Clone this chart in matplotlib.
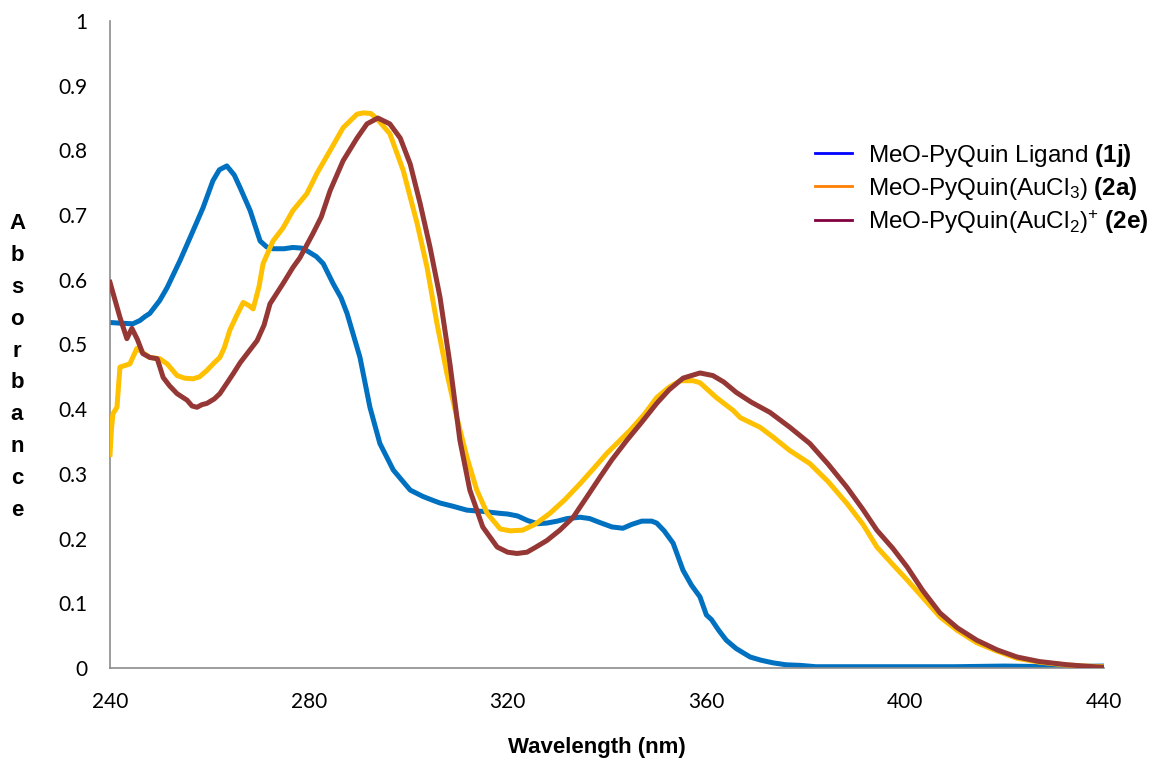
import numpy as np
import matplotlib
matplotlib.use("Agg")
import matplotlib.pyplot as plt
from matplotlib.lines import Line2D

plt.rcParams['mathtext.fontset'] = 'custom'
plt.rcParams['mathtext.rm'] = 'Liberation Sans'
plt.rcParams['mathtext.it'] = 'Liberation Sans:italic'
plt.rcParams['mathtext.bf'] = 'Liberation Sans:bold'

# UV-vis spectra, wavelength (nm) vs absorbance
wl_1j = [240, 242, 244.6, 246, 247, 248, 250, 251.5, 254.1, 256.1, 258.7, 260.7, 262, 263.5,
         265, 266.2, 268.2, 270.2, 271.5, 272.8, 275, 276.8, 278.5, 279.6, 281.5, 282.9,
         284.9, 286.5, 287.7, 290.3, 292.3, 294.3, 297, 300.4, 303, 305, 306.4, 309, 311.8,
         315, 318.5, 320, 322, 324, 326, 327.9, 330, 332, 334.6, 336.5, 338.5, 341, 343.2,
         345, 347, 349, 350, 351.5, 353.3, 355.3, 357, 358.7, 360, 361, 362.5, 364, 366,
         368.8, 371, 373.4, 376, 379, 382, 390, 400, 410, 420, 430, 440]
abs_1j = [0.534, 0.533, 0.532, 0.537, 0.543, 0.548, 0.568, 0.588, 0.630, 0.665, 0.711, 0.753,
          0.770, 0.776, 0.762, 0.742, 0.707, 0.660, 0.651, 0.648, 0.648, 0.650, 0.649, 0.645,
          0.636, 0.625, 0.594, 0.572, 0.548, 0.480, 0.403, 0.347, 0.306, 0.275, 0.265, 0.259,
          0.255, 0.250, 0.244, 0.242, 0.239, 0.238, 0.235, 0.228, 0.223, 0.224, 0.227, 0.231,
          0.233, 0.231, 0.225, 0.218, 0.216, 0.222, 0.227, 0.227, 0.224, 0.212, 0.193, 0.151,
          0.128, 0.110, 0.082, 0.075, 0.058, 0.043, 0.030, 0.017, 0.012, 0.008, 0.005, 0.004,
          0.002, 0.002, 0.002, 0.002, 0.003, 0.002, 0.003]

wl_2a = [240, 240.3, 240.6, 241.4, 242, 244, 245.4, 246.5, 248, 250, 251.5, 253.5, 255, 256.7,
         258, 259.5, 261, 262.1, 263, 264.1, 265.5, 266.8, 268, 268.8, 270, 270.8, 272.8,
         274.8, 276.8, 279.6, 281.6, 284.3, 286.9, 289.7, 291, 292.5, 293.7, 296.3, 299,
         301.8, 303.8, 305.8, 307.8, 309.8, 311.8, 313.8, 315.9, 318.5, 320.5, 323, 325.5,
         328.5, 331.5, 334.6, 337.5, 340, 344.6, 347.5, 350, 352.5, 354.7, 357.3, 358.7, 362,
         365.4, 366.8, 370.8, 373.4, 376.8, 380.8, 384.5, 388.3, 391.5, 394.3, 397.5, 400.4,
         404, 407, 410.5, 414.4, 418.5, 422.5, 427, 432, 436, 440]
abs_2a = [0.33, 0.37, 0.393, 0.403, 0.465, 0.470, 0.494, 0.488, 0.480, 0.478, 0.470, 0.452,
          0.448, 0.447, 0.450, 0.460, 0.472, 0.480, 0.495, 0.522, 0.545, 0.565, 0.560, 0.555,
          0.590, 0.625, 0.660, 0.680, 0.707, 0.733, 0.764, 0.800, 0.835, 0.856, 0.858, 0.857,
          0.849, 0.826, 0.769, 0.687, 0.619, 0.532, 0.455, 0.387, 0.326, 0.275, 0.239, 0.215,
          0.212, 0.213, 0.222, 0.239, 0.260, 0.285, 0.310, 0.332, 0.367, 0.392, 0.418, 0.434,
          0.444, 0.444, 0.441, 0.418, 0.398, 0.387, 0.372, 0.357, 0.336, 0.316, 0.288, 0.254,
          0.222, 0.187, 0.160, 0.136, 0.105, 0.079, 0.058, 0.039, 0.026, 0.015, 0.009, 0.005,
          0.003, 0.002]

wl_2e = [240, 242, 243.4, 244.4, 245.5, 246.6, 248, 249.5, 250.7, 252, 253.5, 255.5, 256.5,
         257.5, 258.5, 259.5, 261, 262.1, 263.5, 264.8, 266.2, 267.6, 269.6, 271, 272.2,
         274.8, 276.8, 278.2, 280.8, 282.5, 284.3, 286.9, 289.7, 291.7, 293.9, 296.3, 298.4,
         300.4, 302.4, 304.4, 306.4, 308.4, 310.4, 312.4, 315, 317.9, 320, 321.9, 323.9,
         325.5, 327.9, 330.5, 333.2, 336, 338.6, 341, 344, 347, 350, 352.5, 355.3, 358.7,
         361.3, 363.5, 366, 369, 372.8, 376.8, 380.8, 384.5, 388.3, 391.5, 394.3, 397.5,
         400.4, 403.5, 407, 410.5, 414.4, 418.5, 422.5, 427, 432.6, 436, 440]
abs_2e = [0.596, 0.542, 0.509, 0.525, 0.508, 0.486, 0.480, 0.478, 0.449, 0.436, 0.424, 0.414,
          0.405, 0.403, 0.407, 0.409, 0.416, 0.424, 0.440, 0.455, 0.472, 0.486, 0.506, 0.530,
          0.563, 0.594, 0.619, 0.634, 0.671, 0.697, 0.738, 0.784, 0.819, 0.841, 0.850, 0.841,
          0.819, 0.779, 0.718, 0.650, 0.573, 0.470, 0.352, 0.275, 0.218, 0.187, 0.179, 0.177,
          0.179, 0.186, 0.197, 0.213, 0.233, 0.265, 0.295, 0.322, 0.352, 0.380, 0.409, 0.430,
          0.448, 0.456, 0.452, 0.442, 0.426, 0.411, 0.395, 0.372, 0.347, 0.315, 0.279, 0.245,
          0.213, 0.185, 0.156, 0.120, 0.085, 0.062, 0.043, 0.028, 0.017, 0.010, 0.005, 0.003,
          0.001]

labels = [r"MeO-PyQuin Ligand $\mathbf{(1j)}$",
          r"MeO-PyQuin(AuCl$_3$) $\mathbf{(2a)}$",
          r"MeO-PyQuin(AuCl$_2$)$^{+}$ $\mathbf{(2e)}$"]
line_colors = ['#0070C0', '#FFC000', '#953735']
key_colors = ['#0000FF', '#FF8000', '#800040']

fig = plt.figure(figsize=(11.54, 7.61), dpi=100)
ax = fig.add_axes([110/1154, 1-668/761, (1104-110)/1154, (668-21)/761])

ax.plot(wl_1j, abs_1j, color=line_colors[0], lw=3.6, solid_joinstyle='round', zorder=2)
ax.plot(wl_2a, abs_2a, color=line_colors[1], lw=3.6, solid_joinstyle='round', zorder=3)
ax.plot(wl_2e, abs_2e, color=line_colors[2], lw=3.6, solid_joinstyle='round', zorder=4)

ax.set_xlim(240, 440)
ax.set_ylim(0, 1)
ax.set_xticks(np.arange(240, 441, 40))
ax.set_yticks(np.arange(0, 1.01, 0.1))
ax.set_yticklabels(['0', '0.1', '0.2', '0.3', '0.4', '0.5', '0.6', '0.7', '0.8', '0.9', '1'])
ax.tick_params(length=0, labelsize=15, pad=16)
ax.tick_params(axis='x', pad=17)
for lab in ax.get_xticklabels() + ax.get_yticklabels():
    lab.set_family('Lato')
for s in ['top', 'right']:
    ax.spines[s].set_visible(False)
for s in ['left', 'bottom']:
    ax.spines[s].set_color('#8C8C8C')
    ax.spines[s].set_linewidth(1.2)

fig.text(597/1154, 1-748/761, 'Wavelength (nm)', ha='center', va='center',
         family='Liberation Sans', fontweight='bold', fontsize=16)
fig.text(17/1154, 1-367/761, '\n'.join('Absorbance'), ha='center', va='center',
         family='Liberation Sans', fontweight='bold', fontsize=16, linespacing=1.68)

handles = [Line2D([], [], color=c, lw=2) for c in key_colors]
fig.legend(handles, labels, loc='upper left', bbox_to_anchor=(815/1154, 1-142/761),
           frameon=False, prop={'family': 'Liberation Sans', 'size': 17.5},
           handlelength=1.52, handletextpad=0.66, labelspacing=0.24, borderaxespad=0,
           borderpad=0)

fig.savefig('out.png', dpi=100)
